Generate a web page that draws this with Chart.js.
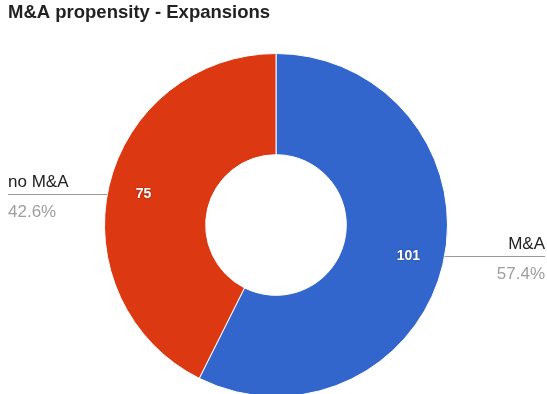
<!DOCTYPE HTML>
<html>
<head>
    <meta charset="utf-8" />
    <title>M&amp;A propensity - Expansions</title>
    <script src="https://cdn.jsdelivr.net/npm/chart.js@4.4.1/dist/chart.umd.min.js"></script>
    <style type="text/css">
        html, body {
            margin: 0;
            padding: 0;
            background: #fff;
            overflow: hidden;
        }
        #wrap {
            width: 547px;
            height: 450px;
        }
    </style>
</head>
<body>
    <div id="wrap"><canvas id="chartPie" width="547" height="450"></canvas></div>

    <script>
        // data
        var chartTitle = 'M&A propensity - Expansions';
        var labels = ['M&A', 'no M&A'];
        var counts = [101, 75];
        var percents = ['57.4%', '42.6%'];
        var colors = ['#3366cc', '#dc3912'];

        // title, slice values and side labels with leader lines
        var pieLabels = {
            id: 'pieLabels',
            afterDraw: function (chart) {
                var ctx = chart.ctx;
                var meta = chart.getDatasetMeta(0);
                ctx.save();

                ctx.fillStyle = '#222';
                ctx.font = 'bold 18.5px "Liberation Sans", Arial, sans-serif';
                ctx.textAlign = 'left';
                ctx.textBaseline = 'alphabetic';
                ctx.fillText(chartTitle, 8, 18);

                meta.data.forEach(function (arc, i) {
                    var p = arc.getProps(['x', 'y', 'startAngle', 'endAngle', 'innerRadius', 'outerRadius'], true);
                    var mid = (p.startAngle + p.endAngle) / 2;
                    var r = p.innerRadius + (p.outerRadius - p.innerRadius) * 0.65;
                    var lx = p.x + Math.cos(mid) * r;
                    var ly = p.y + Math.sin(mid) * r;

                    // value inside the slice
                    ctx.save();
                    ctx.font = 'bold 14px "Liberation Sans", Arial, sans-serif';
                    ctx.textAlign = 'center';
                    ctx.textBaseline = 'middle';
                    ctx.shadowColor = 'rgba(0,0,0,0.45)';
                    ctx.shadowBlur = 2;
                    ctx.fillStyle = '#fff';
                    ctx.fillText(String(counts[i]), lx, ly);
                    ctx.restore();

                    // leader line out to the side
                    var right = Math.cos(mid) > 0;
                    var dy = ly - p.y;
                    var edge = Math.sqrt(p.outerRadius * p.outerRadius - dy * dy);
                    var x0 = right ? p.x + edge : p.x - edge;
                    var x1 = right ? 545 : 8;
                    var y = Math.round(ly) + 0.5;
                    ctx.strokeStyle = '#999';
                    ctx.lineWidth = 1;
                    ctx.beginPath();
                    ctx.moveTo(x0, y);
                    ctx.lineTo(x1, y);
                    ctx.stroke();

                    ctx.font = '17px "Liberation Sans", Arial, sans-serif';
                    ctx.textAlign = right ? 'right' : 'left';
                    ctx.textBaseline = 'alphabetic';
                    ctx.fillStyle = '#222';
                    ctx.fillText(labels[i], x1, y - 8);
                    ctx.fillStyle = '#9e9e9e';
                    ctx.fillText(percents[i], x1, y + 22);
                });

                ctx.restore();
            }
        };

        const ctx = document.getElementById('chartPie').getContext('2d');
        const myChart = new Chart(ctx, {
            type: 'doughnut',
            data: {
                labels: labels,
                datasets: [{
                    data: counts,
                    backgroundColor: colors,
                    borderColor: '#fff',
                    borderWidth: 1
                }]
            },
            options: {
                responsive: false,
                animation: false,
                cutout: '41%',
                layout: {
                    padding: { top: 53, bottom: 53, left: 104, right: 99 }
                },
                plugins: {
                    legend: { display: false },
                    tooltip: { enabled: false }
                }
            },
            plugins: [pieLabels]
        });
    </script>
</body>
</html>
